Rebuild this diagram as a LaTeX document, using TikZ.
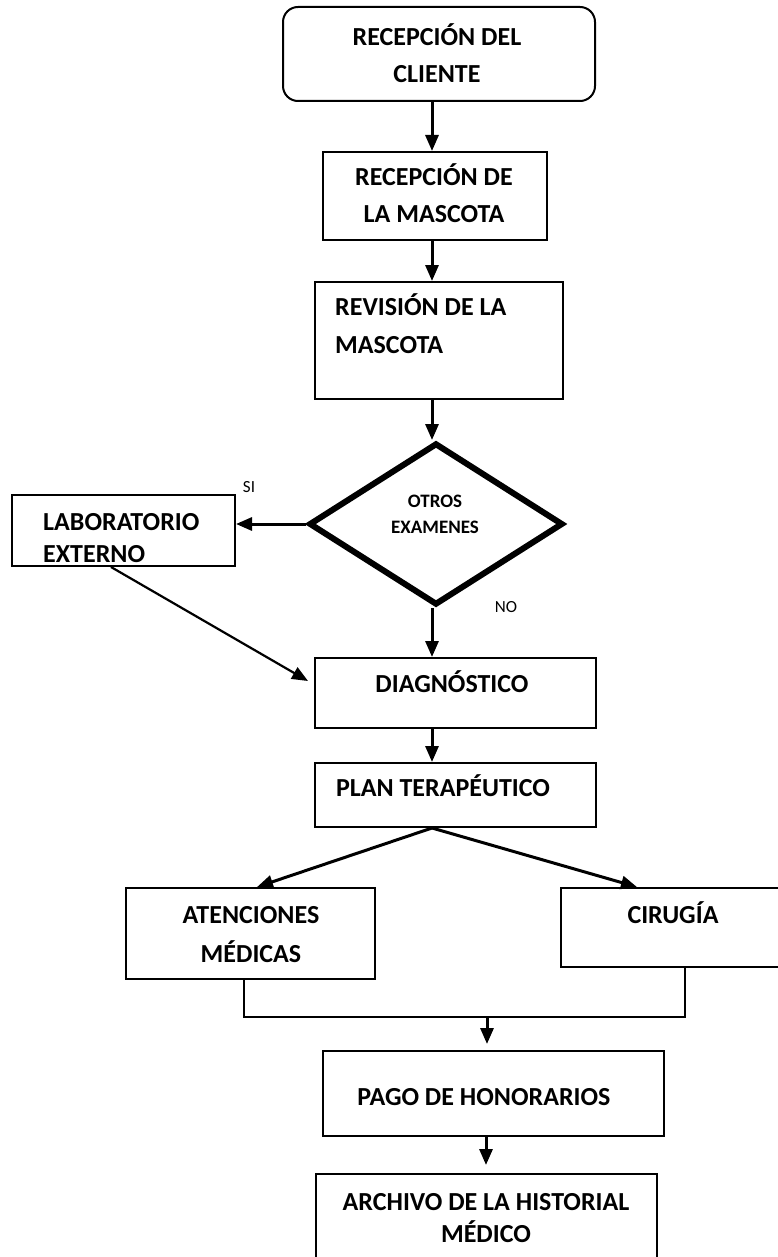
\documentclass[tikz,border=0pt]{standalone}
\usepackage{fontspec}
\setmainfont{Carlito}
\usetikzlibrary{shapes.geometric,arrows.meta,positioning}

\begin{document}
\begin{tikzpicture}[x=1pt,y=-1pt,
    box/.style={draw, line width=2pt, rectangle, inner sep=0pt},
    txt/.style={font=\fontsize{26}{37}\selectfont\bfseries, inner sep=0pt, align=center, anchor=base},
    respuesta/.style={font=\fontsize{17}{19}\selectfont, inner sep=0pt},
    flecha/.style={line width=3pt, -{Triangle[length=16pt,width=13pt]}},
    linea/.style={line width=2pt}]
    \useasboundingbox (0,0) rectangle (777,1257);

    % Cajas
    \node[box, rounded corners=15pt, minimum width=312, minimum height=94] (cliente) at (439,54) {};
    \node[box, minimum width=224, minimum height=88] (mascota) at (435,196) {};
    \node[box, minimum width=248, minimum height=117] (revision) at (439,340.5) {};
    \node[draw, diamond, line width=6pt, inner sep=0pt, minimum width=254, minimum height=162] (examen) at (436,524) {};
    \node[box, minimum width=223, minimum height=71] (lab) at (123.5,530.5) {};
    \node[box, minimum width=281, minimum height=70] (diagnostico) at (455.5,693) {};
    \node[box, minimum width=281, minimum height=64] (plan) at (455.5,795) {};
    \node[box, minimum width=249, minimum height=91] (atenciones) at (250.5,933.5) {};
    \node[box, minimum width=229, minimum height=79] (cirugia) at (675.5,927.5) {};
    \node[box, minimum width=341, minimum height=85] (pago) at (493.5,1093.5) {};
    \node[box, minimum width=341, minimum height=116] (archivo) at (486.5,1232) {};

    % Textos (base = ultima linea)
    \node[txt] (t-cliente) at (437,83) {RECEPCIÓN DEL\\CLIENTE};
    \node[txt] (t-mascota) at (434,223) {RECEPCIÓN DE\\LA MASCOTA};
    \node[txt, anchor=base west, align=left, font=\fontsize{26}{38}\selectfont\bfseries] (t-revision) at (335,353) {REVISIÓN DE LA\\MASCOTA};
    \node[txt, font=\fontsize{19}{26}\selectfont\bfseries] (t-examen) at (435,533) {OTROS\\EXAMENES};
    \node[txt, anchor=base west, align=left, font=\fontsize{26}{32}\selectfont\bfseries] (t-lab) at (43,562) {LABORATORIO\\EXTERNO};
    \node[txt] (t-diagnostico) at (452,692) {DIAGNÓSTICO};
    \node[txt] (t-plan) at (443,796) {PLAN TERAPÉUTICO};
    \node[txt, font=\fontsize{26}{39}\selectfont\bfseries] (t-atenciones) at (251,962) {ATENCIONES\\MÉDICAS};
    \node[txt] (t-cirugia) at (673,923) {CIRUGÍA};
    \node[txt] (t-pago) at (484,1105) {PAGO DE HONORARIOS};
    \node[txt, font=\fontsize{26}{32}\selectfont\bfseries] (t-archivo) at (486,1242) {ARCHIVO DE LA HISTORIAL\\MÉDICO};
    \node[respuesta] (si) at (249,487) {SI};
    \node[respuesta] (no) at (506,607) {NO};

    % Conectores
    \coordinate (eje) at (432,0);
    \coordinate (llegada) at (308,681);
    \coordinate (junta) at (487,1017);
    \draw[flecha] (cliente.south -| eje) -- (mascota.north -| eje);
    \draw[flecha] (mascota.south -| eje) -- (revision.north -| eje);
    \draw[flecha] (revision.south -| eje) -- (examen.north -| eje);
    \draw[flecha] (examen.west) -- (examen.west -| lab.east);
    \draw[flecha, line width=2.2pt] ([xshift=-12.5pt]lab.south) -- (llegada);
    \draw[flecha] (examen.south -| eje) -- (diagnostico.north -| eje);
    \draw[flecha] (diagnostico.south -| eje) -- (plan.north -| eje);
    \draw[flecha] (plan.south -| eje) -- ([xshift=6.5pt]atenciones.north);
    \draw[flecha] (plan.south -| eje) -- ([xshift=-38.5pt]cirugia.north);
    \draw[linea] ([xshift=-6.5pt]atenciones.south) |- (junta) -| ([xshift=9.5pt]cirugia.south);
    \draw[flecha, shorten >=6pt] (junta) -- (pago.north -| junta);
    \draw[flecha, shorten >=8pt] ([xshift=-7.5pt]pago.south) -- ([xshift=-0.5pt]archivo.north);
\end{tikzpicture}
\end{document}
